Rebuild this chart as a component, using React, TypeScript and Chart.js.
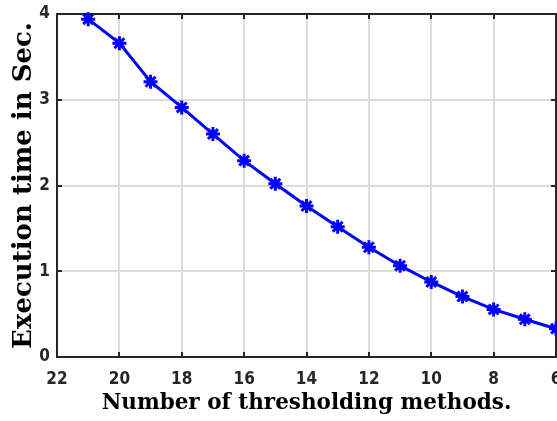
import React, { useEffect, useRef } from "react";
import { Chart, registerables } from "chart.js";

Chart.register(...registerables);

const xValues = [21, 20, 19, 18, 17, 16, 15, 14, 13, 12, 11, 10, 9, 8, 7, 6];
const execTimes = [3.94, 3.66, 3.21, 2.91, 2.6, 2.29, 2.02, 1.76, 1.52, 1.28, 1.065, 0.875, 0.705, 0.555, 0.44, 0.33];
const xTicks = [22, 20, 18, 16, 14, 12, 10, 8, 6];
const yTicks = [0, 1, 2, 3, 4];
const xTitle = "Number of thresholding methods.";
const yTitle = "Execution time in Sec.";

const framePlugin = {
  id: "frame",
  beforeDatasetsDraw(chart: any) {
    const { ctx, chartArea, scales } = chart;
    const { left, right, top, bottom } = chartArea;
    ctx.save();
    ctx.strokeStyle = "#262626";
    ctx.lineWidth = 2;
    ctx.beginPath();
    const tl = 5;
    xTicks.forEach((v) => {
      const px = Math.round(scales.x.getPixelForValue(v));
      ctx.moveTo(px, bottom);
      ctx.lineTo(px, bottom - tl);
      ctx.moveTo(px, top);
      ctx.lineTo(px, top + tl);
    });
    yTicks.forEach((v) => {
      const py = Math.round(scales.y.getPixelForValue(v));
      ctx.moveTo(left, py);
      ctx.lineTo(left + tl, py);
      ctx.moveTo(right, py);
      ctx.lineTo(right - tl, py);
    });
    ctx.stroke();
    ctx.strokeRect(left, top, right - left, bottom - top);
    ctx.restore();
  },
};

export default function App() {
  const ref = useRef<HTMLCanvasElement>(null);
  useEffect(() => {
    document.body.style.margin = "0";
    const tickFont = { family: "'DejaVu Sans Condensed', 'DejaVu Sans'", size: 17, weight: "bold" as const };
    const xTitleFont = { family: "'DejaVu Serif', serif", size: 21.5, weight: "bold" as const };
    const yTitleFont = { family: "'DejaVu Serif', serif", size: 26, weight: "bold" as const };
    const chart = new Chart(ref.current!, {
      type: "line",
      data: {
        datasets: [
          {
            data: xValues.map((x, i) => ({ x, y: execTimes[i] })),
            borderColor: "#0000ff",
            backgroundColor: "#0000ff",
            borderWidth: 3,
            pointStyle: "star",
            pointRadius: 7,
            pointBorderWidth: 3,
            pointBorderColor: "#0000ff",
            clip: false as any,
            tension: 0,
          },
        ],
      },
      options: {
        animation: false,
        responsive: false,
        layout: { autoPadding: false, padding: { top: 14, right: 1, left: 0, bottom: 0 } },
        plugins: { legend: { display: false }, tooltip: { enabled: false } },
        scales: {
          x: {
            type: "linear",
            reverse: true,
            min: 6,
            max: 22,
            afterBuildTicks: (s: any) => {
              s.ticks = xTicks.map((v) => ({ value: v }));
            },
            afterFit: (s: any) => {
              s.height = 64;
              s.paddingLeft = 0;
              s.paddingRight = 0;
            },
            ticks: { color: "#262626", font: tickFont, padding: 12, maxRotation: 0 },
            grid: { color: "#dcdcdc", lineWidth: 2, drawTicks: false },
            border: { display: false },
            title: { display: true, text: xTitle, color: "#000", font: xTitleFont, padding: { top: 0, bottom: 5 } },
          },
          y: {
            type: "linear",
            min: 0,
            max: 4,
            afterBuildTicks: (s: any) => {
              s.ticks = yTicks.map((v) => ({ value: v }));
            },
            afterFit: (s: any) => {
              s.width = 57;
              s.paddingTop = 0;
              s.paddingBottom = 0;
            },
            ticks: { color: "#262626", font: tickFont, padding: 7 },
            grid: { color: "#dcdcdc", lineWidth: 2, drawTicks: false },
            border: { display: false },
            title: { display: true, text: yTitle, color: "#000", font: yTitleFont, padding: { top: 9, bottom: 0 } },
          },
        },
      },
      plugins: [framePlugin],
    });
    return () => chart.destroy();
  }, []);
  return <canvas ref={ref} width={557} height={421} style={{ display: "block" }} />;
}
